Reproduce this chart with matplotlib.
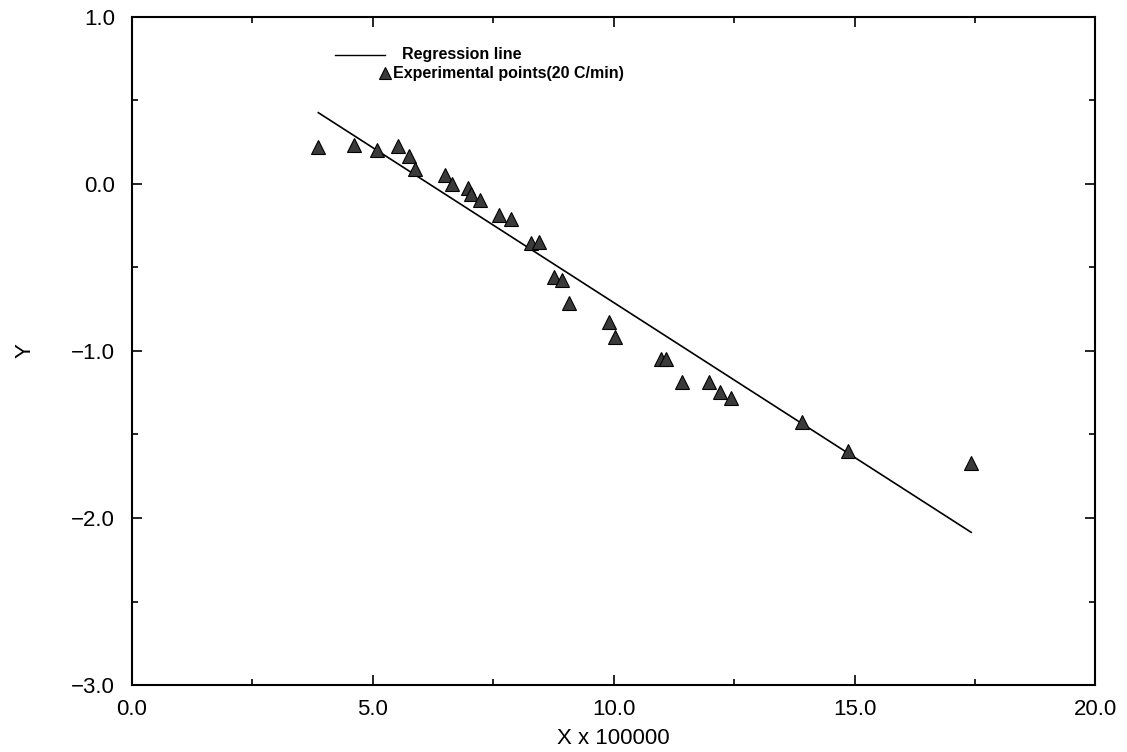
import numpy as np
import matplotlib
matplotlib.use("Agg")
import matplotlib.pyplot as plt
from matplotlib.ticker import MultipleLocator, FuncFormatter

plt.rcParams['font.family'] = ['Liberation Sans', 'DejaVu Sans']

# Experimental points (heating rate 20 C/min)
x_exp = [3.87, 4.61, 5.08, 5.53, 5.75, 5.88, 6.49, 6.65, 6.98, 7.03,
         7.23, 7.63, 7.87, 8.28, 8.45, 8.76, 8.93, 9.08, 9.91, 10.02,
         10.98, 11.08, 11.41, 11.97, 12.21, 12.43, 13.91, 14.86, 17.42]
y_exp = [0.220, 0.229, 0.199, 0.226, 0.163, 0.086, 0.054, 0.000, -0.026, -0.060,
         -0.096, -0.186, -0.214, -0.353, -0.346, -0.559, -0.575, -0.713, -0.828, -0.918,
         -1.052, -1.052, -1.184, -1.184, -1.244, -1.281, -1.423, -1.597, -1.672]

# Regression line y = slope * x + intercept over the fitted range
slope = -0.1853
intercept = 1.142
x_fit_range = [3.87, 17.42]


def fmt(v, _pos):
    return f'{v:.1f}'.replace('-', '\u2212')


fig = plt.figure(figsize=(11.27, 7.52), dpi=100)
ax = fig.add_axes([0.117, 0.089, 0.855, 0.889])

xf = np.array(x_fit_range)
ax.plot(xf, slope * xf + intercept, color='black', lw=1.2)
ax.plot(x_exp, y_exp, linestyle='none', marker='^', markersize=10,
        markerfacecolor='#3a3a3a', markeredgecolor='black', markeredgewidth=0.8)

ax.set_xlim(0, 20)
ax.set_ylim(-3, 1)
ax.xaxis.set_major_locator(MultipleLocator(5))
ax.xaxis.set_minor_locator(MultipleLocator(2.5))
ax.yaxis.set_major_locator(MultipleLocator(1))
ax.yaxis.set_minor_locator(MultipleLocator(0.5))
ax.xaxis.set_major_formatter(FuncFormatter(fmt))
ax.yaxis.set_major_formatter(FuncFormatter(fmt))
ax.tick_params(which='both', direction='in', top=True, right=True,
               width=1.2, colors='black')
ax.tick_params(which='major', length=7, labelsize=16)
ax.tick_params(axis='x', which='major', pad=10)
ax.tick_params(axis='y', which='major', pad=12)
ax.tick_params(which='minor', length=4)
for sp in ax.spines.values():
    sp.set_linewidth(1.5)

ax.set_xlabel('X x 100000', fontsize=16, labelpad=6)
ax.set_ylabel('Y', fontsize=16, labelpad=26)

# Key drawn inside the axes
ax.plot([0.211, 0.263], [0.943, 0.943], transform=ax.transAxes,
        color='black', lw=1.0)
ax.text(0.280, 0.943, 'Regression line', transform=ax.transAxes,
        fontsize=11.5, fontweight='bold', va='center', ha='left')
ax.plot([0.263], [0.915], transform=ax.transAxes, linestyle='none',
        marker='^', markersize=8, markerfacecolor='#3a3a3a',
        markeredgecolor='black', markeredgewidth=0.8)
ax.text(0.271, 0.915, 'Experimental points(20 C/min)', transform=ax.transAxes,
        fontsize=11.5, fontweight='bold', va='center', ha='left')

fig.savefig('out.png', dpi=100)
